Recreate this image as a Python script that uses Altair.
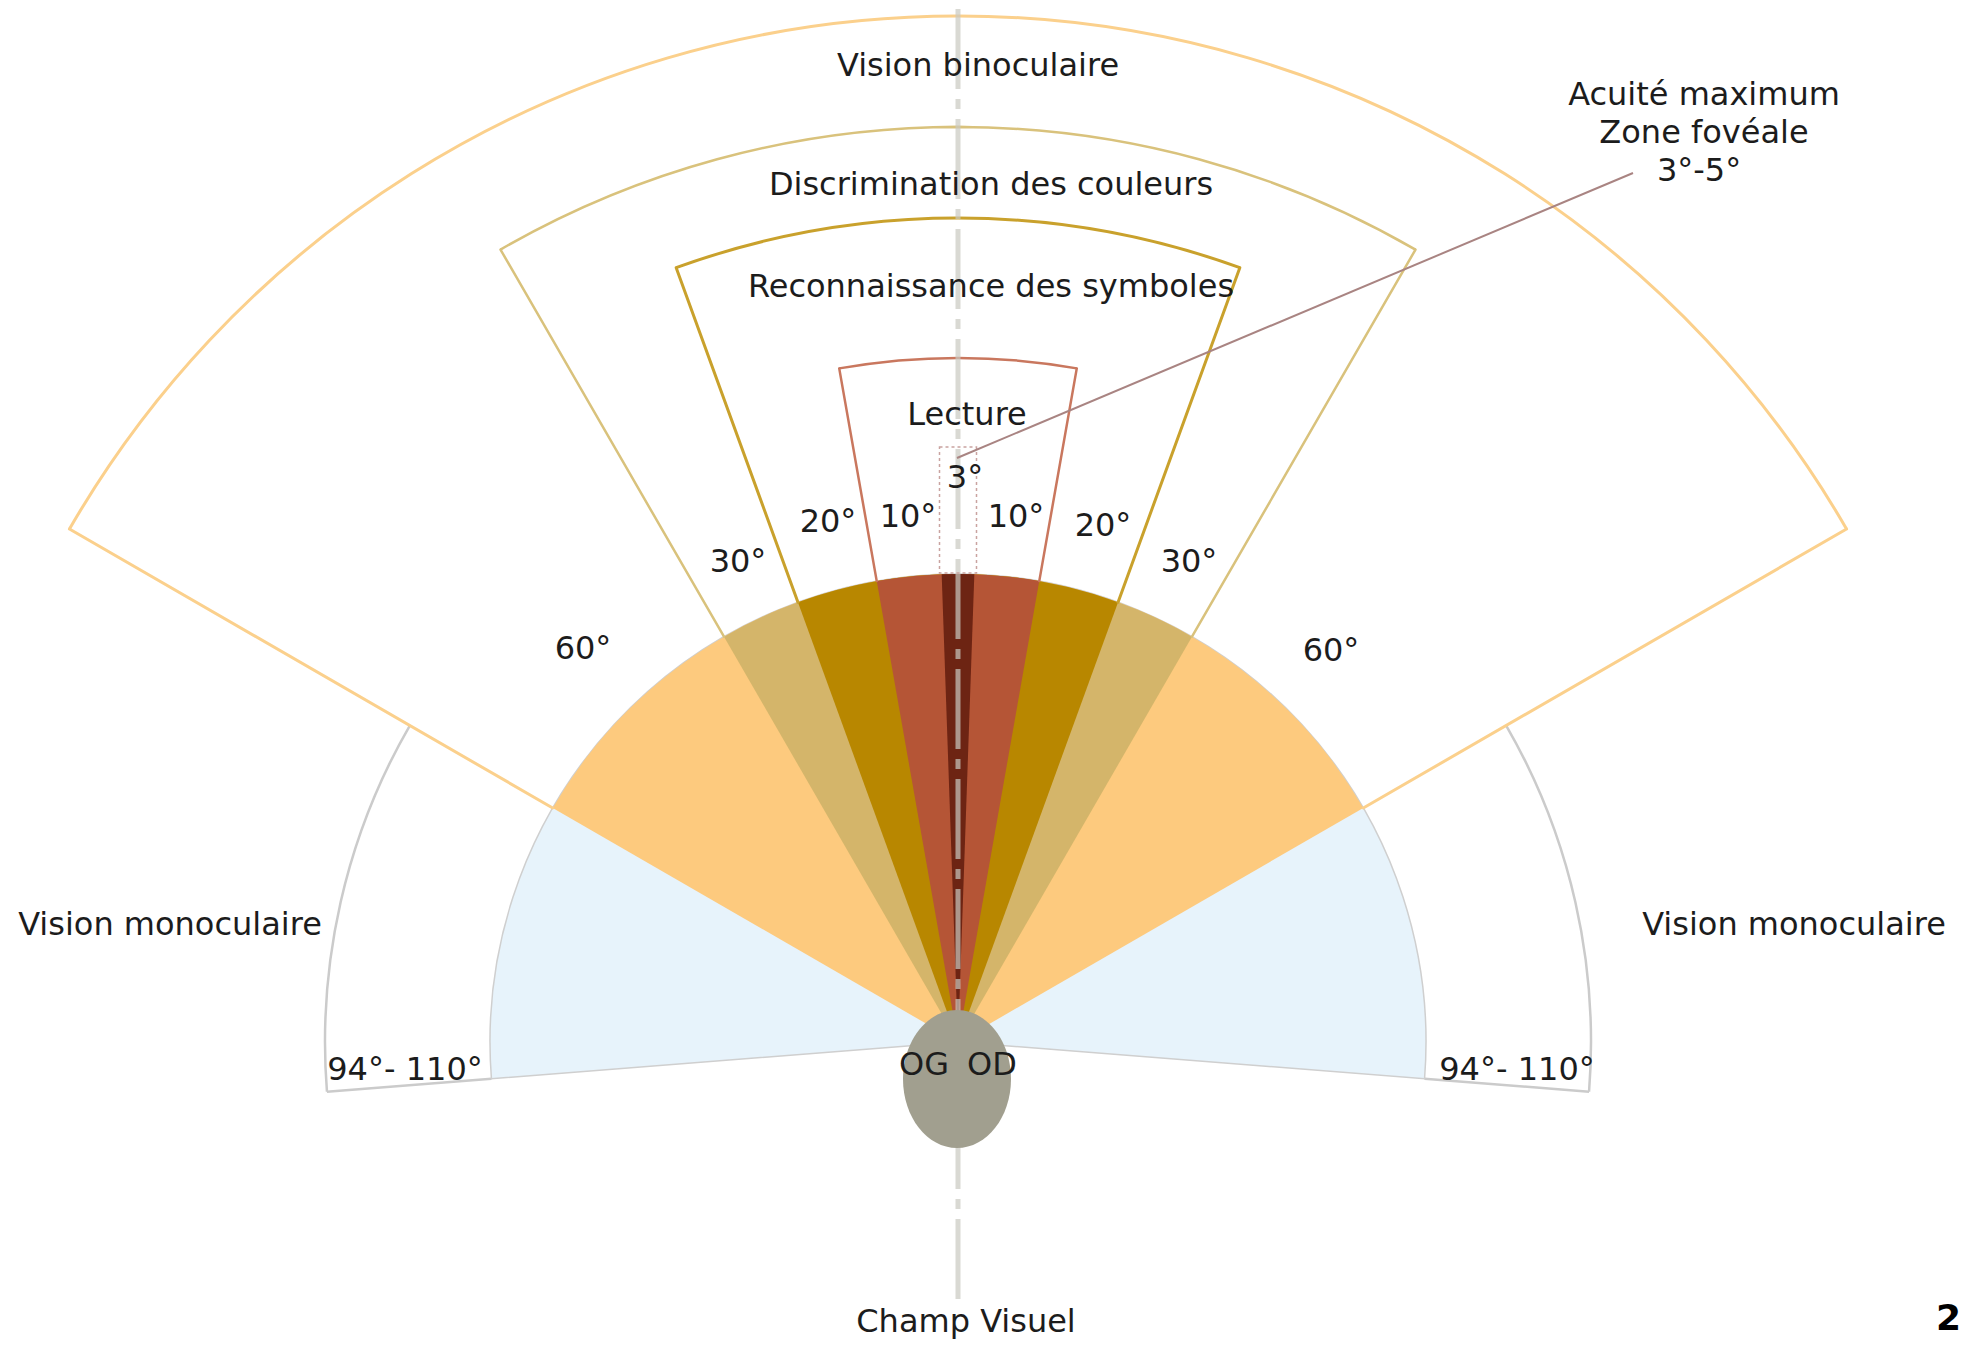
import altair as alt
import numpy as np
import pandas as pd

# ---------------- data (degrees / diagram units; origin = top of the eyes) ----------------
# common centre of all the sectors (just below the top of the eyes)
centre_x, centre_y = 0, -32

# filled zones, drawn outer first: half-angle of each wedge
zone_names = ["Vision monoculaire", "Vision binoculaire", "Discrimination des couleurs",
              "Reconnaissance des symboles", "Lecture", "Acuité maximum"]
zone_half_angle = [94.5, 60.0, 30.0, 20.0, 10.0, 2.0]
zone_fill = ["#e7f3fb", "#fdca7e", "#d4b56a", "#b88700", "#b55536", "#6d2413"]
fill_radius = 468

# outlines of each zone (outer arc radius, half-angle)
outline_angle = [60.0, 30.0, 20.0, 10.0]
outline_radius = [1026, 915, 824, 684]
outline_colour = ["#fbd08c", "#d9c27c", "#c9a12c", "#c9775e"]
outline_width = [3.0, 2.5, 3.0, 2.5]

# monocular outline
mono_outline_radius = 633
mono_outline_from = 60.0
mono_outline_to = 94.5

# foveal (3°) dotted box and leader line
fovea_box_x = [-18.5, 18.5]
fovea_box_y = [437, 563]
leader_x = [-1, 675]
leader_y = [552, 837]

# central axis
axis_y = [-289, 1004]

# eyes (ellipse)
eye_x, eye_y = -1, -69
eye_w, eye_h = 108, 138

# labels
label_text = ["Vision binoculaire", "Discrimination des couleurs", "Reconnaissance des symboles",
              "Lecture", "3°", "10°", "10°", "20°", "20°", "30°", "30°", "60°", "60°",
              "Vision monoculaire", "Vision monoculaire", "94°- 110°", "94°- 110°",
              "OG", "OD", "Acuité maximum", "Zone fovéale", "3°-5°", "Champ Visuel"]
label_x = [20, 33, 33, 9, 7, -50, 58, -130, 145, -220, 231, -375, 373,
           -788, 836, -553, 559, -34, 34, 746, 746, 741, 8]
label_y = [934, 815, 713, 585, 522, 483, 483, 478, 474, 438, 438, 351, 349,
           75, 75, -70, -70, -65, -65, 905, 867, 829, -322]

corner_text = ["2"]
corner_x = [978]
corner_y = [-320]

# ---------------- derived tables ----------------
n = len(zone_names)
wedges = pd.DataFrame({
    "zone": zone_names,
    "t0": [-a for a in zone_half_angle],
    "t1": zone_half_angle,
    "r": [fill_radius] * n,
    "r2": [0] * n,
    "cx": [centre_x] * n,
    "cy": [centre_y] * n,
    "fill": zone_fill,
})

mono_arcs = pd.DataFrame({
    "t0": [-mono_outline_to, mono_outline_from],
    "t1": [-mono_outline_from, mono_outline_to],
    "r": [mono_outline_radius] * 2, "r2": [mono_outline_radius] * 2,
    "cx": [centre_x] * 2, "cy": [centre_y] * 2,
})


def radial(theta_deg, r_in, r_out, s):
    t = np.radians(theta_deg)
    return {"x": centre_x + s * r_in * np.sin(t), "y": centre_y + r_in * np.cos(t),
            "x2": centre_x + s * r_out * np.sin(t), "y2": centre_y + r_out * np.cos(t)}


mono_edges = pd.DataFrame([radial(mono_outline_to, fill_radius, mono_outline_radius, s)
                           for s in (-1, 1)])

outer_arcs = pd.DataFrame({
    "t0": [-a for a in outline_angle], "t1": outline_angle,
    "r": outline_radius, "r2": outline_radius,
    "cx": [centre_x] * 4, "cy": [centre_y] * 4, "col": outline_colour, "sw": outline_width,
})
sides = []
for a, ro, c, w in zip(outline_angle, outline_radius, outline_colour, outline_width):
    for s in (-1, 1):
        d = radial(a, fill_radius, ro, s)
        d.update({"col": c, "sw": w})
        sides.append(d)
sides = pd.DataFrame(sides)

fovea = pd.DataFrame({"x": [fovea_box_x[0]], "x2": [fovea_box_x[1]],
                      "y": [fovea_box_y[0]], "y2": [fovea_box_y[1]]})
leader = pd.DataFrame({"x": [leader_x[0]], "x2": [leader_x[1]],
                       "y": [leader_y[0]], "y2": [leader_y[1]]})
axis_df = pd.DataFrame({"x": [0], "x2": [0], "y": [axis_y[0]], "y2": [axis_y[1]]})
eye = pd.DataFrame({"x": [eye_x], "y": [eye_y]})
labels = pd.DataFrame({"t": label_text, "x": label_x, "y": label_y})
corner = pd.DataFrame({"t": corner_text, "x": corner_x, "y": corner_y})

# ---------------- scales ----------------
W, H = 1952, 1333
xs = alt.Scale(domain=[-950, 1002], nice=False, zero=False)
ys = alt.Scale(domain=[-331, 1002], nice=False, zero=False)
rs = alt.Scale(type="linear", domain=[0, 1000], range=[0, 1000], nice=False, zero=True)
ts = alt.Scale(type="linear", domain=[0, 360], range=[0, 2 * np.pi], nice=False, zero=True)


def arc_enc(ch):
    return ch.encode(
        x=alt.X("cx:Q", scale=xs, axis=None),
        y=alt.Y("cy:Q", scale=ys, axis=None),
        theta=alt.Theta("t0:Q", scale=ts, stack=None),
        theta2=alt.Theta2("t1:Q"),
        radius=alt.Radius("r:Q", scale=rs),
        radius2=alt.Radius2("r2:Q"),
    )


def seg_enc(ch, extra=None):
    enc = dict(
        x=alt.X("x:Q", scale=xs, axis=None),
        y=alt.Y("y:Q", scale=ys, axis=None),
        x2=alt.X2("x2:Q"),
        y2=alt.Y2("y2:Q"),
    )
    if extra:
        enc.update(extra)
    return ch.encode(**enc)


layers = []

# monocular outline (grey)
layers.append(arc_enc(alt.Chart(mono_arcs).mark_arc(fillOpacity=0, stroke="#cbcbcb", strokeWidth=2.5)))
layers.append(seg_enc(alt.Chart(mono_edges).mark_rule(color="#cbcbcb", strokeWidth=2.5)))

# filled wedges (monocular field has a faint grey edge)
layers.append(arc_enc(alt.Chart(wedges.iloc[:1]).mark_arc(stroke="#cfcfcf", strokeWidth=1.5)).encode(
    fill=alt.Fill("fill:N", scale=None)))
layers.append(arc_enc(alt.Chart(wedges.iloc[1:]).mark_arc(strokeWidth=0)).encode(
    fill=alt.Fill("fill:N", scale=None)))

# zone outlines
layers.append(arc_enc(alt.Chart(outer_arcs).mark_arc(fillOpacity=0, strokeJoin="miter")).encode(
    stroke=alt.Stroke("col:N", scale=None), strokeWidth=alt.StrokeWidth("sw:Q", scale=None)))
layers.append(seg_enc(alt.Chart(sides).mark_rule(strokeCap="round"),
                      dict(color=alt.Color("col:N", scale=None),
                           strokeWidth=alt.StrokeWidth("sw:Q", scale=None))))

# central axis
layers.append(seg_enc(alt.Chart(axis_df).mark_rule(color="#c9c9c0", opacity=0.7, strokeWidth=5,
                                                   strokeDash=[80, 10, 10, 10])))

# foveal box and leader line
layers.append(seg_enc(alt.Chart(fovea).mark_rect(fillOpacity=0, stroke="#c9a3a0", strokeWidth=1.5,
                                                 strokeDash=[3, 3])))
layers.append(seg_enc(alt.Chart(leader).mark_rule(color="#a98482", strokeWidth=2)))

# eyes
ellipse_path = "M 0 -1 A 0.7826 1 0 1 1 0 1 A 0.7826 1 0 1 1 0 -1 Z"
layers.append(alt.Chart(eye).mark_point(shape=ellipse_path, filled=True, opacity=1,
                                        color="#a19f8f", size=eye_h ** 2, strokeWidth=0).encode(
    x=alt.X("x:Q", scale=xs, axis=None), y=alt.Y("y:Q", scale=ys, axis=None)))

# labels
layers.append(alt.Chart(labels).mark_text(font="DejaVu Sans", fontSize=32, color="#1c1c1c",
                                          align="center", baseline="alphabetic").encode(
    x=alt.X("x:Q", scale=xs, axis=None), y=alt.Y("y:Q", scale=ys, axis=None), text="t:N"))
layers.append(alt.Chart(corner).mark_text(font="DejaVu Sans", fontSize=36, fontWeight="bold",
                                          color="#000000", align="left", baseline="alphabetic").encode(
    x=alt.X("x:Q", scale=xs, axis=None), y=alt.Y("y:Q", scale=ys, axis=None), text="t:N"))

chart = alt.layer(*layers).properties(
    width=W, height=H, padding=0, autosize=alt.AutoSizeParams(type="none")
).configure_view(stroke=None)

chart.save("out.html", embed_options={"renderer": "svg", "actions": False})
